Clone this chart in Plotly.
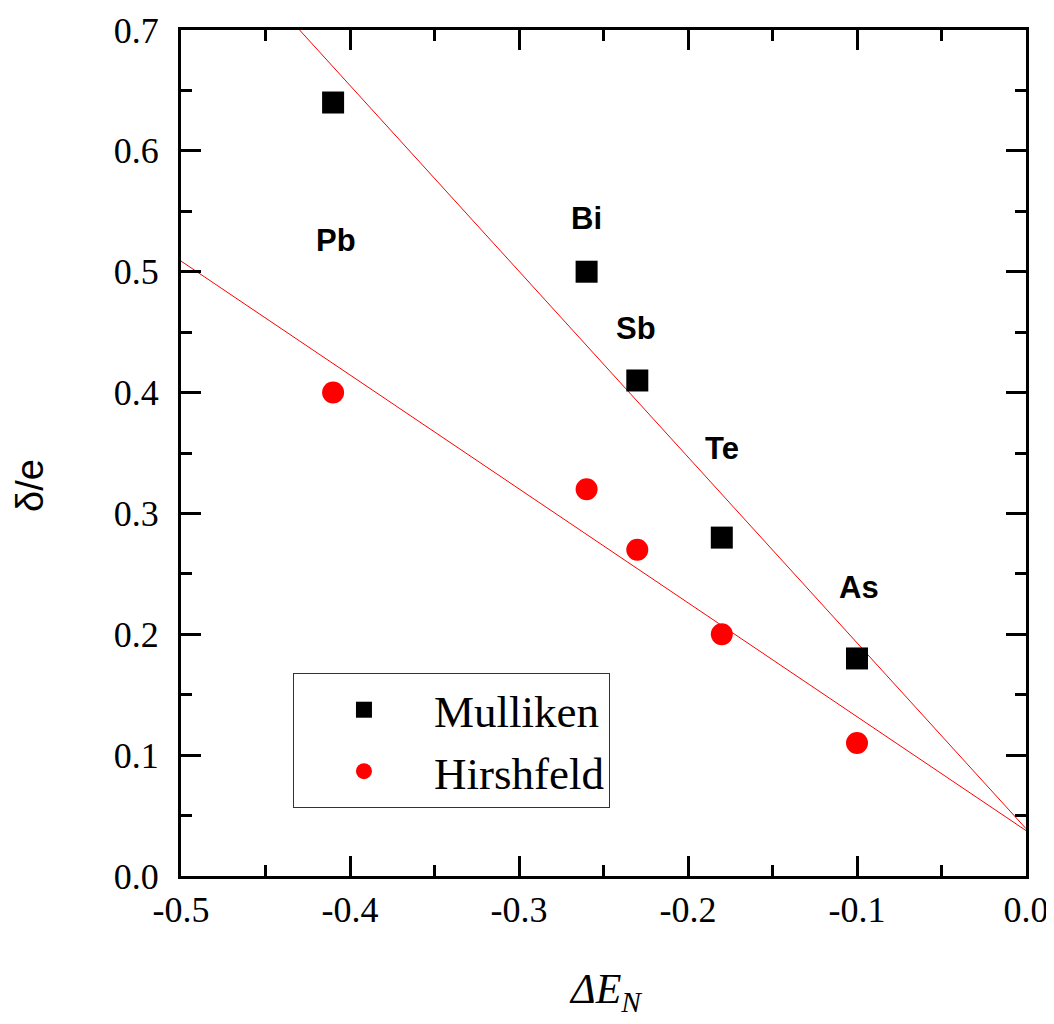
import numpy as np
import plotly.graph_objects as go

# ---- data ----
delta_en = [-0.41, -0.26, -0.23, -0.18, -0.10]
mulliken = [0.64, 0.50, 0.41, 0.28, 0.18]
hirshfeld = [0.40, 0.32, 0.27, 0.20, 0.11]
elements = ["Pb", "Bi", "Sb", "Te", "As"]
label_x = [-0.408, -0.26, -0.231, -0.18, -0.099]
label_y = [0.526, 0.544, 0.453, 0.354, 0.239]

x_tickvals = [-0.5, -0.4, -0.3, -0.2, -0.1, 0.0]
x_ticktext = ["-0.5", "-0.4", "-0.3", "-0.2", "-0.1", "0.0"]
x_minor = [-0.45, -0.35, -0.25, -0.15, -0.05]
y_tickvals = [0.0, 0.1, 0.2, 0.3, 0.4, 0.5, 0.6, 0.7]
y_ticktext = ["0.0", "0.1", "0.2", "0.3", "0.4", "0.5", "0.6", "0.7"]
y_minor = [0.05, 0.15, 0.25, 0.35, 0.45, 0.55, 0.65]
x_range = [-0.5, 0.0]
y_range = [0.0, 0.7]

# linear fits
fit_x = np.array(x_range)
pm = np.polyfit(delta_en, mulliken, 1)
ph = np.polyfit(delta_en, hirshfeld, 1)

fig = go.Figure()
fig.add_trace(go.Scatter(x=fit_x, y=np.polyval(pm, fit_x), mode="lines",
                         line=dict(color="#ff0000", width=1), showlegend=False, hoverinfo="skip"))
fig.add_trace(go.Scatter(x=fit_x, y=np.polyval(ph, fit_x), mode="lines",
                         line=dict(color="#ff0000", width=1), showlegend=False, hoverinfo="skip"))
fig.add_trace(go.Scatter(x=delta_en, y=mulliken, mode="markers", name="Mulliken",
                         marker=dict(symbol="square", size=22, color="black", line=dict(width=0))))
fig.add_trace(go.Scatter(x=delta_en, y=hirshfeld, mode="markers", name="Hirshfeld",
                         marker=dict(symbol="circle", size=22, color="#ff0000", line=dict(width=0))))

for xe, ye, el in zip(label_x, label_y, elements):
    fig.add_annotation(x=xe, y=ye, text="<b>" + el + "</b>", showarrow=False,
                       font=dict(family="Liberation Sans", size=31, color="black"),
                       xanchor="center", yanchor="middle")

# axis titles
fig.add_annotation(xref="paper", yref="paper", x=-0.179, y=0.462, text="δ/e", textangle=-90,
                   showarrow=False, font=dict(family="Liberation Sans", size=38, color="black"),
                   xanchor="center", yanchor="middle")
fig.add_annotation(xref="paper", yref="paper", x=0.502, y=-0.104,
                   text="<i>ΔE</i><sub><i>N</i></sub>", showarrow=False,
                   font=dict(family="Liberation Serif", size=42, color="black"),
                   xanchor="center", yanchor="top")

axis_common = dict(showline=True, linewidth=3, linecolor="black", mirror="ticks",
                   ticks="inside", ticklen=20, tickwidth=3, tickcolor="black",
                   showgrid=False, zeroline=False, automargin=False,
                   tickfont=dict(family="Liberation Serif", size=36, color="black"))

fig.update_xaxes(range=x_range, tickmode="array", tickvals=x_tickvals, ticktext=x_ticktext,
                 minor=dict(tickmode="array", tickvals=x_minor, ticks="inside", ticklen=11,
                            tickwidth=3, tickcolor="black"),
                 ticklabelstandoff=0, **axis_common)
fig.update_yaxes(range=y_range, tickmode="array", tickvals=y_tickvals, ticktext=y_ticktext,
                 minor=dict(tickmode="array", tickvals=y_minor, ticks="inside", ticklen=11,
                            tickwidth=3, tickcolor="black"),
                 ticklabelstandoff=12, **axis_common)

# the page adds an 8px body margin, so the figure is sized/offset to compensate
fig.update_layout(
    width=1046, height=1016,
    margin=dict(l=173, r=28, t=22, b=148),
    font=dict(family="Liberation Serif", color="black"),
    plot_bgcolor="white", paper_bgcolor="white",
    legend=dict(x=0.1325, y=0.24, xanchor="left", yanchor="top",
                bordercolor="#333333", borderwidth=1, bgcolor="white",
                font=dict(family="Liberation Serif", size=45, color="black"),
                itemwidth=130, tracegroupgap=0),
)

fig.write_html("out.html")
